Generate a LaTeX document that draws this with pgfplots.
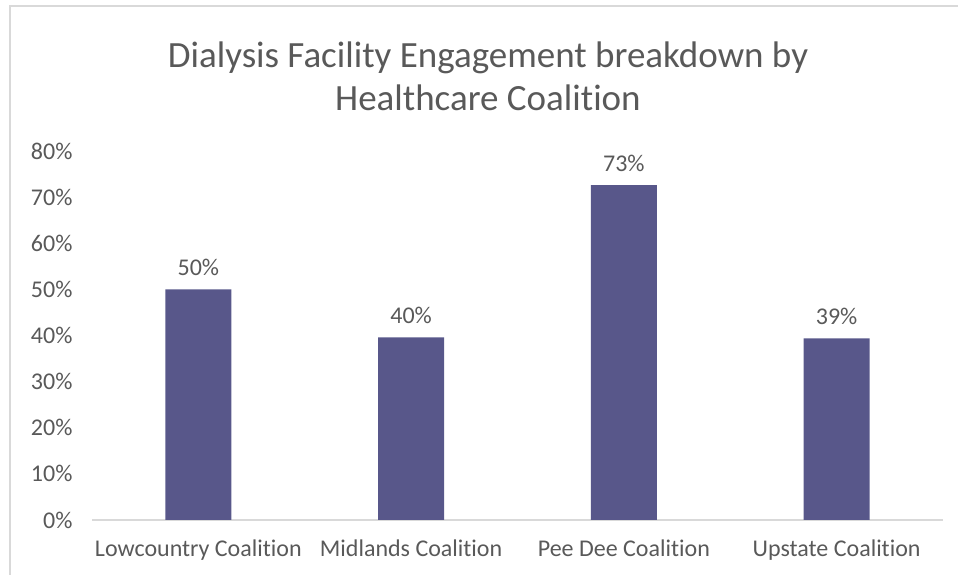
\documentclass[border=0pt]{standalone}
\usepackage{fontspec}
\setmainfont{Carlito}[Ligatures=NoCommon]
\usepackage{pgfplots}
\pgfplotsset{compat=1.18}
\definecolor{barcol}{RGB}{88,87,138}
\definecolor{txt}{RGB}{89,89,89}
\definecolor{axl}{RGB}{217,217,217}

\begin{document}
\begin{tikzpicture}[x=1pt,y=1pt]
\useasboundingbox (0,0) rectangle (958,575);
\clip (0,0) rectangle (958,575);
\draw[axl,line width=1.2pt] (10,-20) rectangle (990,569);
% title, two lines
\node[anchor=base,text=txt,font=\fontsize{37}{44}\selectfont] at (488,507) {Dialysis Facility Engagement breakdown by};
\node[anchor=base,text=txt,font=\fontsize{37}{44}\selectfont] at (488,464) {Healthcare Coalition};
\begin{axis}[
 at={(92pt,55pt)},anchor=south west,
 scale only axis,width=851pt,height=369pt,
 ymin=0,ymax=80,xmin=-0.5,xmax=3.5,
 ybar,bar width=66pt,
 axis x line*=bottom,axis y line*=left,
 x axis line style={axl,line width=1.2pt,-},
 y axis line style={draw=none},
 xtick=data,
 xticklabels={Lowcountry Coalition,Midlands Coalition,Pee Dee Coalition,Upstate Coalition},
 ytick={0,10,...,80},
 major tick length=0pt,
 tick label style={text=txt,font=\fontsize{24}{28}\selectfont},
 x tick label style={yshift=-16pt},
 ytick style={draw=none},xtick style={draw=none},
 yticklabel={\pgfmathprintnumber{\tick}\%},
 yticklabel style={xshift=-16pt},
 /pgf/number format/assume math mode=true,
 nodes near coords={\pgfmathprintnumber[fixed,precision=0]{\pgfplotspointmeta}\%},
 every node near coord/.append style={text=txt,font=\fontsize{24}{28}\selectfont,yshift=10pt},
]
\addplot[fill=barcol,draw=none] coordinates {(0,50.0) (1,39.6) (2,72.6) (3,39.4)};
\end{axis}
\end{tikzpicture}
\end{document}
